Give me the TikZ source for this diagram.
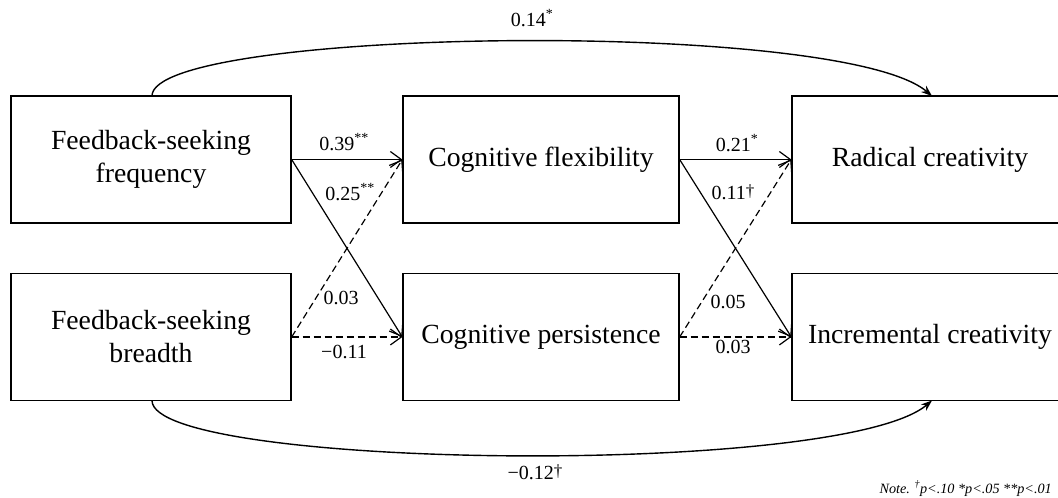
\documentclass[tikz,border=0pt]{standalone}
\usepackage{fontspec}
\setmainfont{Liberation Serif}
\usetikzlibrary{arrows.meta}
\newcommand{\bigdag}{\raisebox{3pt}{\fontsize{17}{17}\selectfont †}}
\tikzset{
  box/.style={draw, line width=1.3pt, minimum width=276pt, minimum height=127pt, align=center, inner sep=0pt,
    font=\fontsize{27.7}{33}\selectfont},
  path/.style={line width=1.2pt, -{Straight Barb[length=11pt,width=16pt,line width=1.2pt]}},
  dpath/.style={path, dash pattern=on 7pt off 4pt},
  arc/.style={line width=1.4pt, -{Stealth[length=11pt,width=8pt]}},
  lab/.style={font=\fontsize{20}{22}\selectfont, inner sep=0pt},
}
\begin{document}
\begin{tikzpicture}[x=1pt,y=-1pt]
\useasboundingbox (0,0) rectangle (1058,498);
\clip (0,0) rectangle (1058,498);
\fill[white] (0,0) rectangle (1058,498);
\node[box, minimum width=280pt] (fsf) at (151,159.5) {Feedback-seeking\\frequency};
\node[box, minimum width=280pt] (fsb) at (151,337) {Feedback-seeking\\breadth};
\node[box] (cf) at (541,159.5) {Cognitive flexibility};
\node[box] (cp) at (541,337) {Cognitive persistence};
\node[box] (rc) at (930,159.5) {Radical creativity};
\node[box] (ic) at (930,337) {Incremental creativity};

\draw[path] (fsf.east) -- (cf.west);
\draw[path] (fsf.east) -- (cp.west);
\draw[dpath] (fsb.east) -- (cf.west);
\draw[dpath] (fsb.east) -- (cp.west);
\draw[path] (cf.east) -- (rc.west);
\draw[path] (cf.east) -- (ic.west);
\draw[dpath] (cp.east) -- (rc.west);
\draw[dpath] (cp.east) -- (ic.west);

\coordinate (t1) at (152,96);
\coordinate (t2) at (932,96);
\coordinate (b1) at (152,400.5);
\coordinate (b2) at (932,400.5);
\draw[arc] (t1) .. controls (152,28) and (840,18) .. (t2);
\draw[arc] (b1) .. controls (152,469) and (840,478) .. (b2);

\node[lab] (l1) at (532,18) {0.14\textsuperscript{*}};
\node[lab] (l2) at (535,472) {−0.12\bigdag};
\node[lab] (l3) at (344,142) {0.39\textsuperscript{**}};
\node[lab] (l4) at (350,192) {0.25\textsuperscript{**}};
\node[lab] (l5) at (341,298) {0.03};
\node[lab] (l6) at (344,352) {−0.11};
\node[lab] (l7) at (737,143) {0.21\textsuperscript{*}};
\node[lab] (l8) at (733,192) {0.11\bigdag};
\node[lab] (l9) at (728,302) {0.05};
\node[lab] (l10) at (733,347) {0.03};
\node[font=\fontsize{14.2}{15}\selectfont\itshape, anchor=base east, inner sep=0pt] (note) at (1052,493)
  {Note. \textsuperscript{†}p<.10 *p<.05 **p<.01};
\end{tikzpicture}
\end{document}
